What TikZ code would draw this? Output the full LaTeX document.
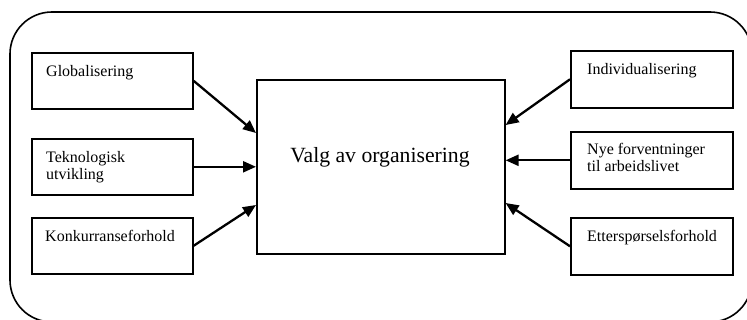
\documentclass[tikz,border=0pt]{standalone}
\usepackage{fontspec}
\setmainfont{Liberation Serif}
\usetikzlibrary{arrows.meta,calc}
\begin{document}
\begin{tikzpicture}[x=1pt,y=-1pt,
  box/.style={draw, line width=1.6pt, inner sep=0pt, anchor=north west},
  lbl/.style={inner sep=0pt, anchor=north west, align=left,
              font=\fontsize{16}{17.5}\selectfont},
  link/.style={line width=2.3pt, -{Triangle[length=13pt,width=11pt]}}]
  \useasboundingbox (0,0) rectangle (747,320);
  \clip (0,0) rectangle (747,320);

  % surrounding frame
  \draw[line width=1.6pt, rounded corners=42pt] (10,12) rectangle (752,322);

  % central box
  \node[box, minimum width=248pt, minimum height=174pt] (c) at (256,79) {};
  \node[anchor=base, inner sep=0pt, font=\fontsize{21.7}{24}\selectfont] (ctext) at (380,163) {Valg av organisering};

  % driving forces, left column
  \node[box, minimum width=161pt, minimum height=56pt] (glob) at (31,52) {};
  \node[box, minimum width=161pt, minimum height=56pt] (tek)  at (31,138) {};
  \node[box, minimum width=161pt, minimum height=56pt] (konk) at (31,217) {};
  \node[lbl] (globt) at (46,65)  {Globalisering};
  \node[lbl] (tekt)  at (46,151) {Teknologisk\\utvikling};
  \node[lbl] (konkt) at (45,230) {Konkurranseforhold};

  % driving forces, right column
  \node[box, minimum width=162pt, minimum height=57pt] (ind) at (570,50) {};
  \node[box, minimum width=162pt, minimum height=57pt] (nye) at (570,131) {};
  \node[box, minimum width=162pt, minimum height=57pt] (ett) at (570,217) {};
  \node[lbl] (indt) at (587,63)  {Individualisering};
  \node[lbl] (nyet) at (587,143) {Nye forventninger\\til arbeidslivet};
  \node[lbl] (ettt) at (587,230) {Etterspørselsforhold};

  % arrows into the central box
  \draw[link] (glob.east) -- ($(c.north west)+(0,54)$);
  \draw[link] (tek.east)  -- (tek.east -| c.west);
  \draw[link] (konk.east) -- ($(c.north west)+(0,126)$);
  \draw[link] (ind.west)  -- ($(c.north east)+(0,46)$);
  \draw[link] (nye.west)  -- (nye.west -| c.east);
  \draw[link] (ett.west)  -- ($(c.north east)+(0,124)$);
\end{tikzpicture}
\end{document}
